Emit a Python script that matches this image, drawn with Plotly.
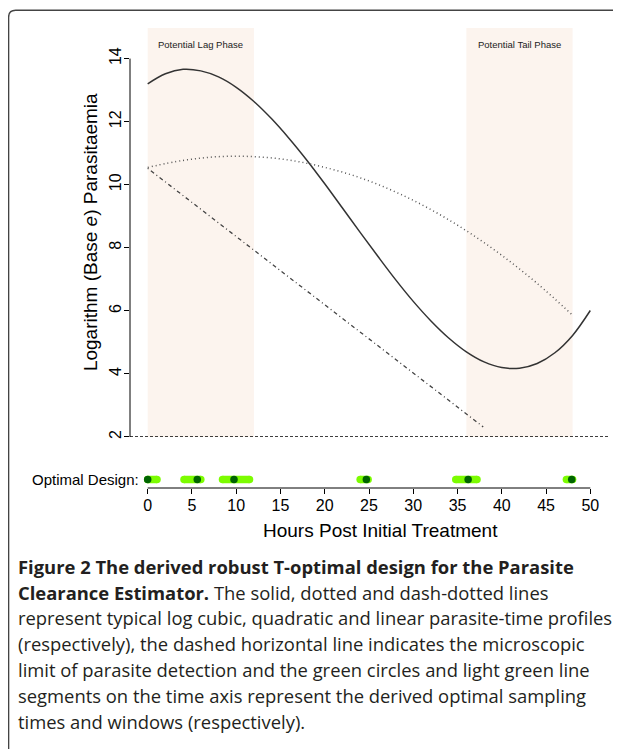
import plotly.graph_objects as go

# ---------------- data ----------------
cubic_hours = [0, 2, 4, 6, 8, 10, 12, 14, 16, 18, 20, 22, 24, 26, 28, 30, 32, 34, 36, 38, 40, 42, 44, 46, 48, 50]
cubic_values = [13.20, 13.52, 13.66, 13.61, 13.42, 13.09, 12.64, 12.09, 11.46, 10.77, 10.03, 9.26, 8.49,
                7.73, 6.99, 6.30, 5.68, 5.14, 4.70, 4.38, 4.20, 4.18, 4.33, 4.67, 5.22, 6.01]
quad_hours = [0, 4, 8, 12, 16, 20, 24, 28, 32, 36, 40, 44, 48]
quad_values = [10.55, 10.77, 10.89, 10.89, 10.78, 10.55, 10.22, 9.77, 9.21, 8.54, 7.76, 6.87, 5.86]
linear_hours = [0, 37.9]
linear_values = [10.52, 2.32]
detection_hours = [-2, 52]
detection_limit = [2, 2]

design_times = [0, 5.6, 9.75, 24.7, 36.2, 47.9]
window_starts = [0, 4.1, 8.45, 24.0, 34.8, 47.3]
window_ends = [1.05, 6.0, 11.5, 24.9, 37.2, 48.0]

phase_starts = [0, 36]
phase_ends = [12, 48]
phase_labels = ["Potential Lag Phase", "Potential Tail Phase"]

x_ticks = [0, 5, 10, 15, 20, 25, 30, 35, 40, 45, 50]
y_ticks = [2, 4, 6, 8, 10, 12, 14]

caption_lines = [
    "<b>Figure 2 The derived robust T-optimal design for the Parasite</b>",
    "<b>Clearance Estimator.</b> The solid, dotted and dash-dotted lines",
    "represent typical log cubic, quadratic and linear parasite-time profiles",
    "(respectively), the dashed horizontal line indicates the microscopic",
    "limit of parasite detection and the green circles and light green line",
    "segments on the time axis represent the derived optimal sampling",
    "times and windows (respectively).",
]

# ---------------- geometry (window pixels; page body has an 8px margin) ----------------
OFF = 8
W, H = 621 - OFF, 749 - OFF
PL, PR, PT, PB = 130, 607.7, 28, 487.7  # plot area in window pixels


def px(x):
    return (x - PL) / (PR - PL)


def py(y):
    return (PB - y) / (PB - PT)


Y_MAIN_BOTTOM = 436.7
AXFONT = "Liberation Sans, Arial, sans-serif"

fig = go.Figure()

# phase shading
for s, e, lab in zip(phase_starts, phase_ends, phase_labels):
    fig.add_shape(type="rect", xref="x", yref="paper", x0=s, x1=e, y0=py(Y_MAIN_BOTTOM), y1=1,
                  fillcolor="rgb(252,244,238)", line_width=0, layer="below")
    fig.add_annotation(x=(s + e) / 2, y=py(44), xref="x", yref="paper", text=lab, showarrow=False,
                       font=dict(family=AXFONT, size=9.5, color="#222"), xanchor="center", yanchor="middle")

# curves
fig.add_trace(go.Scatter(x=cubic_hours, y=cubic_values, mode="lines", line=dict(color="#333", width=1.5, shape="spline"),
                         hoverinfo="skip", showlegend=False))
fig.add_trace(go.Scatter(x=quad_hours, y=quad_values, mode="lines",
                         line=dict(color="#555", width=1.5, shape="spline", dash="1px,3px"),
                         hoverinfo="skip", showlegend=False))
fig.add_trace(go.Scatter(x=linear_hours, y=linear_values, mode="lines",
                         line=dict(color="#444", width=1.3, dash="1px,3px,4px,3px"),
                         hoverinfo="skip", showlegend=False))
fig.add_trace(go.Scatter(x=detection_hours, y=detection_limit, mode="lines",
                         line=dict(color="#000", width=1.3, dash="3px,2px"),
                         hoverinfo="skip", showlegend=False, cliponaxis=False))

# design windows (round caps via end markers)
for s, e in zip(window_starts, window_ends):
    fig.add_trace(go.Scatter(x=[s, e], y=[0.5, 0.5], xaxis="x", yaxis="y2", mode="lines+markers",
                             line=dict(color="#7CFC00", width=7.5), marker=dict(color="#7CFC00", size=7.5),
                             hoverinfo="skip", showlegend=False, cliponaxis=False))
fig.add_trace(go.Scatter(x=design_times, y=[0.5] * len(design_times), xaxis="x", yaxis="y2", mode="markers",
                         marker=dict(color="#006400", size=7.5), hoverinfo="skip", showlegend=False,
                         cliponaxis=False))

# axis lines (R style: only across the tick span)
fig.add_shape(type="line", xref="paper", yref="y", x0=0, x1=0, y0=y_ticks[0], y1=y_ticks[-1],
              line=dict(color="#000", width=1))
fig.add_shape(type="line", xref="x", yref="paper", x0=x_ticks[0], x1=x_ticks[-1], y0=0, y1=0,
              line=dict(color="#000", width=1))

# axis titles
fig.add_annotation(xref="paper", yref="paper", x=px(90), y=py(232), text="Logarithm (Base <i>e</i>) Parasitaemia",
                   textangle=-90, showarrow=False, font=dict(family=AXFONT, size=19, color="#000"),
                   xanchor="center", yanchor="middle")
fig.add_annotation(xref="paper", yref="paper", x=px(380), y=py(530), text="Hours Post Initial Treatment",
                   showarrow=False, font=dict(family=AXFONT, size=19, color="#000"),
                   xanchor="center", yanchor="middle")
fig.add_annotation(xref="paper", yref="paper", x=px(141), y=py(479.3), text="Optimal Design:",
                   showarrow=False, font=dict(family=AXFONT, size=15, color="#000"),
                   xanchor="right", yanchor="middle")

# caption
cap_y = [566, 592, 617.5, 643, 669, 695, 721]
for t, yy in zip(caption_lines, cap_y):
    fig.add_annotation(xref="paper", yref="paper", x=px(16), y=py(yy), text=t, showarrow=False,
                       font=dict(family="Open Sans, sans-serif", size=18.4, color="#231f20"),
                       xanchor="left", yanchor="middle")

# panel border with rounded corner
r = 7
bx, by = 8.7, 10.3
path = (f"M {px(bx)},{py(770)} L {px(bx)},{py(by + r)} Q {px(bx)},{py(by)} {px(bx + r)},{py(by)} "
        f"L {px(640)},{py(by)}")
fig.add_shape(type="path", xref="paper", yref="paper", path=path, line=dict(color="#444", width=1.4))

fig.update_layout(
    width=W, height=H,
    margin=dict(l=PL - OFF, r=621 - PR, t=PT - OFF, b=749 - PB, pad=0),
    paper_bgcolor="white", plot_bgcolor="rgba(0,0,0,0)",
    showlegend=False,
    xaxis=dict(range=[-2, 52], anchor="y2", showline=False, showgrid=False, zeroline=False,
               tickvals=x_ticks, ticks="outside", ticklen=5, tickwidth=1, tickcolor="#000",
               ticklabelstandoff=-2,
               tickfont=dict(family=AXFONT, size=16, color="#000")),
    yaxis=dict(domain=[py(Y_MAIN_BOTTOM), 1], range=[2, 14.97], showline=False, showgrid=False,
               zeroline=False, tickvals=y_ticks, ticks="outside", ticklen=5, tickwidth=1, tickcolor="#000",
               tickangle=-90, ticklabelstandoff=-3, tickfont=dict(family=AXFONT, size=16, color="#000")),
    yaxis2=dict(domain=[0, py(470.9)], range=[0, 1], visible=False, showgrid=False, zeroline=False),
)

fig.write_html("out.html", config={"displayModeBar": False})
